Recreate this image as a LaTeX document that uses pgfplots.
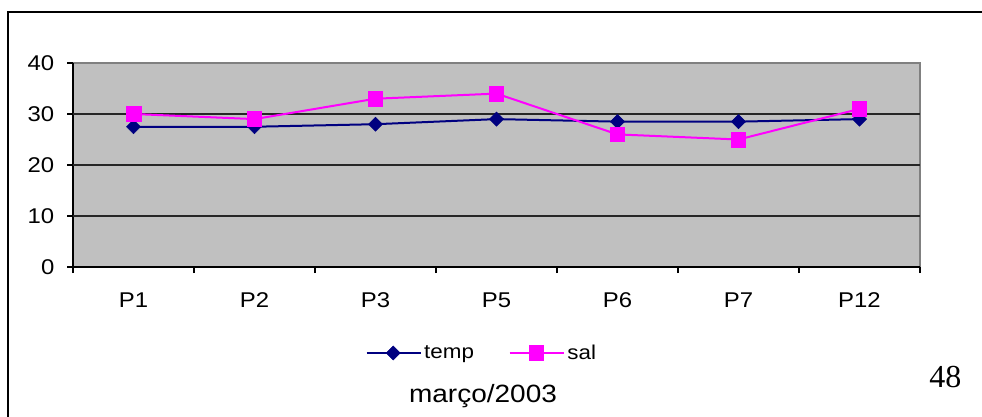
\documentclass[border=0pt]{standalone}
\usepackage{pgfplots}
\pgfplotsset{compat=1.18}
\usepackage{fontspec}
\setmainfont{Liberation Sans}[FakeStretch=1.12]
\newfontfamily\timesfont{Liberation Serif}
\definecolor{plotgray}{HTML}{C0C0C0}
\definecolor{framegray}{HTML}{808080}
\definecolor{tempblue}{HTML}{000080}
\definecolor{salpink}{HTML}{FF00FF}

\begin{document}
\begin{tikzpicture}
\useasboundingbox (0,0) rectangle (736.5pt,-312.75pt);
% page frame (top and left edges)
\draw[line width=1.5pt] (6pt,-313pt) -- (6pt,-9pt) -- (737pt,-9pt);
\begin{axis}[
  at={(54.75pt,-200.25pt)}, anchor=south west,
  scale only axis, width=635.25pt, height=153pt,
  xmin=-0.5, xmax=6.5, ymin=0, ymax=40,
  axis x line=bottom, axis y line=left,
  axis line style={black, line width=0.9pt, -},
  axis background/.style={fill=plotgray, draw=framegray, line width=1.8pt},
  tick align=outside,
  xtick={0,...,6}, xticklabels={P1,P2,P3,P5,P6,P7,P12},
  minor xtick={-0.5,0.5,...,6.5},
  major x tick style={draw=none},
  minor x tick style={black, line width=0.8pt},
  minor tick length=4.5pt,
  ytick={0,10,20,30,40},
  major y tick style={black, line width=0.8pt},
  major tick length=4.5pt,
  extra y ticks={10,20,30}, extra y tick labels={},
  extra y tick style={grid=major, major tick length=0pt},
  grid style={black!85, line width=0.8pt},
  /pgf/number format/assume math mode=true,
  tick label style={font=\fontsize{16}{18}\selectfont},
  xticklabel style={yshift=-11pt},
  yticklabel style={xshift=-6pt},
  legend style={at={(0.483,-0.4216)}, anchor=center, draw=none, fill=none,
    font=\fontsize{15}{17}\selectfont, legend columns=2,
    /tikz/every even column/.append style={column sep=24pt},
    legend cell align=left},
  legend image code/.code={\draw[mark repeat=2,mark phase=2,#1]
    plot coordinates {(0pt,0pt)(20pt,0pt)(40.5pt,0pt)};},
]
\addplot[tempblue, line width=1.5pt, mark=square*, mark size=3.7pt,
  mark options={rotate=45, fill=tempblue, draw=tempblue, line width=0.5pt}]
  coordinates {(0,27.5) (1,27.5) (2,28) (3,29) (4,28.5) (5,28.5) (6,29)};
\addlegendentry{temp}
\addplot[salpink, line width=1.5pt, mark=square*, mark size=5.5pt,
  mark options={fill=salpink, draw=salpink, line width=0.5pt}]
  coordinates {(0,30) (1,29) (2,33) (3,34) (4,26) (5,25) (6,31)};
\addlegendentry{sal}
\end{axis}
\node[font=\fontsize{18.75}{20}\selectfont] at (362.25pt,-297pt) {março/2003};
\node[font=\timesfont\fontsize{24}{26}\selectfont] at (709pt,-283pt) {48};
\end{tikzpicture}
\end{document}
